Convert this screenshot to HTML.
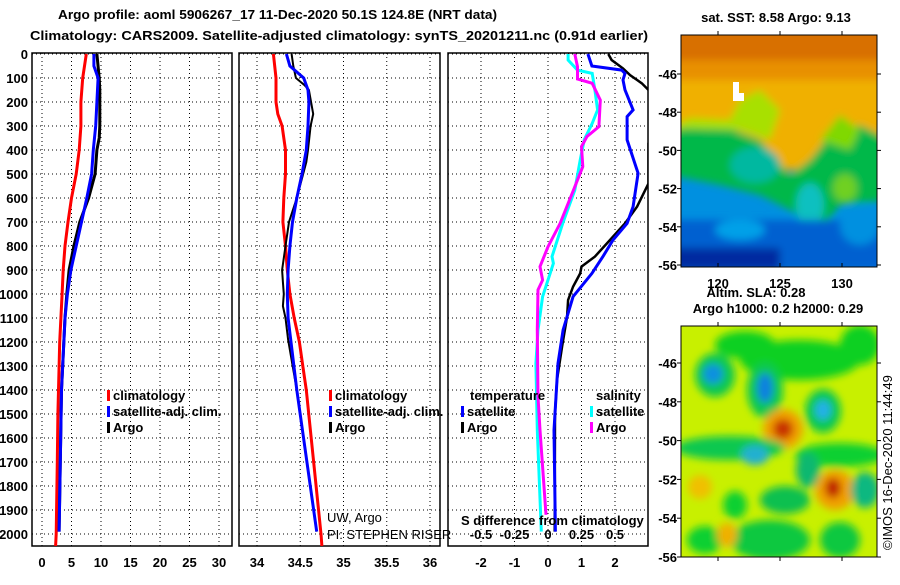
<!DOCTYPE html>
<html><head><meta charset="utf-8"><style>
body{margin:0;background:#fff;width:900px;height:580px;overflow:hidden}
svg text{font-family:"Liberation Sans",sans-serif;font-weight:bold;font-size:13px;fill:#000}
</style></head><body>
<svg id="s" width="900" height="580" viewBox="0 0 900 580" xmlns="http://www.w3.org/2000/svg">
<defs>
<filter id="bl" x="-20%" y="-20%" width="140%" height="140%"><feGaussianBlur stdDeviation="4"/></filter>
<clipPath id="c1"><rect x="681" y="35" width="196" height="232"/></clipPath>
<clipPath id="c2"><rect x="681" y="326" width="196" height="231"/></clipPath>
<clipPath id="cp1"><rect x="32" y="53" width="200" height="493"/></clipPath>
<clipPath id="cp2"><rect x="239" y="53" width="201" height="493"/></clipPath>
<clipPath id="cp3"><rect x="448" y="53" width="200" height="493"/></clipPath>
</defs>
<text x="58" y="19" textLength="439" lengthAdjust="spacingAndGlyphs" font-size="14">Argo profile: aoml 5906267_17 11-Dec-2020 50.1S 124.8E (NRT data)</text>
<text x="30" y="40" textLength="618" lengthAdjust="spacingAndGlyphs" font-size="14">Climatology: CARS2009. Satellite-adjusted climatology: synTS_20201211.nc (0.91d earlier)</text>

<g clip-path="url(#c1)">
<rect x="681" y="35" width="196" height="232" fill="#0090e0"/>
<g filter="url(#bl)">
<rect x="670" y="20" width="220" height="150" fill="#f0b000"/>
<rect x="670" y="20" width="220" height="45" fill="#d87000"/>
<rect x="670" y="60" width="220" height="20" fill="#e89000"/>
<path d="M670,130 L720,125 L760,140 L790,175 L810,160 L830,135 L860,125 L890,140 L890,200 L840,205 L820,230 L790,210 L760,195 L720,185 L670,175 Z" fill="#00b848"/>
<path d="M670,128 L690,118 L730,120 L740,100 L760,90 L780,110 L770,140 L740,130 Z" fill="#a8e000"/>
<path d="M820,140 L840,115 L860,130 L850,150 Z" fill="#80d800"/>
<ellipse cx="845" cy="188" rx="12" ry="14" fill="#70d020"/>
<ellipse cx="810" cy="205" rx="14" ry="22" fill="#10c0c0"/>
<ellipse cx="755" cy="165" rx="25" ry="18" fill="#00b8a0"/>
<rect x="670" y="220" width="220" height="50" fill="#0060d0"/>
<rect x="670" y="248" width="110" height="22" fill="#002aa0"/>
<ellipse cx="740" cy="230" rx="25" ry="10" fill="#00a0e8"/>
<ellipse cx="860" cy="225" rx="20" ry="20" fill="#0090e0"/>
</g>
<rect x="733" y="82" width="6" height="18" fill="#fff"/>
<rect x="733" y="93" width="11" height="8" fill="#fff"/>
</g>
<rect x="681" y="35" width="196" height="232" fill="none" stroke="#000" stroke-width="1"/>

<g clip-path="url(#c2)">
<rect x="681" y="326" width="196" height="231" fill="#c8f000"/>
<g filter="url(#bl)">
<ellipse cx="745" cy="345" rx="30" ry="14" fill="#10d020"/>
<ellipse cx="800" cy="360" rx="60" ry="20" fill="#10d020"/>
<ellipse cx="860" cy="345" rx="20" ry="20" fill="#10d020"/>
<ellipse cx="715" cy="375" rx="20" ry="22" fill="#10c850"/>
<ellipse cx="713" cy="374" rx="10" ry="10" fill="#1090e0"/>
<ellipse cx="765" cy="390" rx="18" ry="28" fill="#10c850"/>
<ellipse cx="765" cy="388" rx="8" ry="15" fill="#1080e0"/>
<ellipse cx="823" cy="411" rx="18" ry="22" fill="#10c850"/>
<ellipse cx="823" cy="410" rx="8" ry="10" fill="#20b0e8"/>
<ellipse cx="783" cy="429" rx="20" ry="20" fill="#f0a000"/>
<ellipse cx="783" cy="429" rx="10" ry="10" fill="#c83000"/>
<ellipse cx="730" cy="448" rx="55" ry="12" fill="#10c850"/>
<ellipse cx="755" cy="455" rx="14" ry="10" fill="#20b0d0"/>
<ellipse cx="840" cy="455" rx="45" ry="12" fill="#10d030"/>
<ellipse cx="808" cy="470" rx="12" ry="18" fill="#10b870"/>
<ellipse cx="835" cy="490" rx="20" ry="20" fill="#f0a000"/>
<ellipse cx="833" cy="488" rx="8" ry="10" fill="#c02000"/>
<ellipse cx="700" cy="487" rx="12" ry="12" fill="#f0c000"/>
<ellipse cx="865" cy="490" rx="14" ry="18" fill="#10b880"/>
<ellipse cx="785" cy="500" rx="25" ry="14" fill="#10c050"/>
<ellipse cx="735" cy="505" rx="12" ry="14" fill="#10d030"/>
<ellipse cx="770" cy="540" rx="40" ry="20" fill="#10c840"/>
<ellipse cx="705" cy="540" rx="18" ry="14" fill="#10d030"/>
<ellipse cx="727" cy="535" rx="10" ry="12" fill="#f0b000"/>
<ellipse cx="840" cy="540" rx="20" ry="18" fill="#10c840"/>
</g>
</g>
<rect x="681" y="326" width="196" height="231" fill="none" stroke="#000" stroke-width="1"/>

<text x="776" y="22" text-anchor="middle" font-size="12">sat. SST: 8.58 Argo: 9.13</text>
<text x="756" y="297" text-anchor="middle" font-size="12">Altim. SLA: 0.28</text>
<text x="778" y="313" text-anchor="middle" font-size="12">Argo h1000: 0.2 h2000: 0.29</text>
<text transform="translate(892,550) rotate(-90)" font-size="12" style="font-weight:normal">©IMOS 16-Dec-2020 11:44:49</text>
<g id="axes"></g>
</svg>
<script>
// ---- data ----
const depthT = [0,100,200,300,400,500,600,700,800,900,1000,1100,1200,1300,1500,1700,2000,2050];
const climT = [7.5,6.9,6.6,6.6,6.3,5.8,5.0,4.4,3.9,3.6,3.4,3.2,3.0,2.9,2.7,2.6,2.4,2.3];
const depthB = [0,50,100,200,300,400,500,600,700,800,900,1000,1100,1400,1990];
const satT = [8.8,8.8,9.5,9.3,9.1,8.7,8.4,7.6,6.7,5.8,4.9,4.3,3.9,3.3,2.9];
const depthA = [0,100,150,300,350,400,500,600,700,800,900,1000,1100,1400,1990];
const argoT = [9.3,9.7,9.8,9.8,9.7,9.3,9.0,7.9,6.4,5.4,4.6,4.2,3.9,3.3,2.9];

const depthCS = [0,100,200,250,300,400,500,600,700,800,900,1000,1100,1200,1300,1400,2000,2050];
const climS = [34.19,34.22,34.22,34.24,34.29,34.33,34.33,34.31,34.30,34.33,34.35,34.38,34.43,34.49,34.53,34.57,34.74,34.75];
const depthSS = [0,50,100,150,200,300,400,500,600,700,800,900,1000,1100,1190,1400,1990];
const satS = [34.34,34.38,34.54,34.59,34.60,34.59,34.57,34.52,34.46,34.41,34.38,34.36,34.35,34.36,34.39,34.46,34.69];
const depthAS = [0,50,100,130,150,250,300,400,450,600,700,800,900,950,1000,1050,1100,1190,1400,1990];
const argoS = [34.40,34.42,34.45,34.55,34.60,34.65,34.62,34.59,34.57,34.46,34.37,34.33,34.29,34.30,34.31,34.30,34.33,34.36,34.46,34.69];

const depthDT = [0,50,67,81,108,150,233,261,358,497,636,706,775,844,914,1011,1150,1289,1428,1567,1990];
const diffSatT = [1.19,1.31,2.2,2.3,2.24,2.3,2.54,2.36,2.36,2.69,2.54,2.36,1.94,1.64,1.31,0.75,0.45,0.30,0.24,0.18,0.22];
const depthDA = [0,25,60,88,122,150,250,372,539,636,706,775,844,886,914,969,1025,1094,1219,1358,1497,1990];
const diffArgoT = [1.8,1.9,2.24,2.45,2.8,3.0,3.4,3.0,3.0,2.66,2.3,1.85,1.4,1.0,0.96,0.75,0.6,0.57,0.42,0.27,0.21,0.2];
const depthDCS = [0,25,67,81,150,233,289,358,442,567,706,844,872,1011,1150,1289,1567,1990];
const diffSatS = [0.15,0.15,0.22,0.33,0.35,0.37,0.33,0.27,0.24,0.2,0.11,0.03,0.04,-0.04,-0.075,-0.09,-0.08,-0.05];
const depthDMS = [0,53,104,122,192,303,344,386,469,567,706,803,886,942,983,1150,1428,1567,1920];
const diffArgoS = [0.2,0.22,0.22,0.33,0.39,0.38,0.29,0.25,0.26,0.19,0.09,0,-0.06,-0.04,-0.075,-0.08,-0.075,-0.06,-0.015];

const ticksT = [0,5,10,15,20,25,30];
const ticksS = [34,34.5,35,35.5,36];
const ticksD = [-2,-1,0,1,2];
const ticksSdiff = [-0.5,-0.25,0,0.25,0.5];
const ticksDepth = [0,100,200,300,400,500,600,700,800,900,1000,1100,1200,1300,1400,1500,1600,1700,1800,1900,2000];
const lonTicks = [120,125,130];
const latTicks = [-46,-48,-50,-52,-54,-56];

// ---- scales ----
const yD = d => 54 + d*0.24;
const x1 = v => 42 + v*5.9;
const x2 = v => 257 + (v-34)*86.5;
const x3 = v => 548 + v*33.5;
const x3s = v => x3(v*4);
const lonX = v => 718 + (v-120)*12.4;
const latY1 = v => 74 + (-46 - v)*19.1;
const latY2 = v => 363 + (-46 - v)*19.4;

const NS = 'http://www.w3.org/2000/svg';
const root = document.getElementById('axes');
function mk(tag, attrs, parent){const e=document.createElementNS(NS,tag);for(const k in attrs)e.setAttribute(k,attrs[k]);(parent||root).appendChild(e);return e;}
function txt(x,y,s,anchor,size,parent){const t=mk('text',{x:x,y:y,'text-anchor':anchor||'start','font-size':size||12},parent);t.textContent=s;return t;}

const panels = [
 {name:'temperature-panel',x0:32,x1:232,clip:'cp1',sx:x1,ticks:ticksT},
 {name:'salinity-panel',x0:239,x1:440,clip:'cp2',sx:x2,ticks:ticksS},
 {name:'difference-panel',x0:448,x1:648,clip:'cp3',sx:x3,ticks:ticksD}
];
panels.forEach(p=>{
  const g = mk('g',{});
  
  
  ticksDepth.forEach(d=>{ mk('line',{x1:p.x0,x2:p.x1,y1:yD(d),y2:yD(d),stroke:'#000','stroke-dasharray':'1,3','stroke-width':1},g); });
  p.ticks.forEach(v=>{ mk('line',{x1:p.sx(v),x2:p.sx(v),y1:53,y2:546,stroke:'#000','stroke-dasharray':'1,3','stroke-width':1},g);
    const t=txt(p.sx(v),567,String(v),'middle',12,g);
    
    
  });
  mk('rect',{x:p.x0,y:53,width:p.x1-p.x0,height:493,fill:'none',stroke:'#000','stroke-width':1.5},g);
});
ticksDepth.forEach(d=>{
  const t=txt(28,yD(d)+5,String(d),'end',13);
  
  
});

function series(name, depths, vals, sx, color, clip, w){
  const pts = depths.map((d,i)=>sx(vals[i]).toFixed(1)+','+yD(d).toFixed(1)).join(' ');
  const l = mk('polyline',{points:pts,fill:'none',stroke:color,'stroke-width':w||3,'clip-path':'url(#'+clip+')'});
  
  
}
series('temp-climatology-line',depthT,climT,x1,'#ff0000','cp1');
series('temp-argo-line',depthA,argoT,x1,'#000','cp1');
series('temp-satellite-line',depthB,satT,x1,'#0000ff','cp1');
series('sal-climatology-line',depthCS,climS,x2,'#ff0000','cp2');
series('sal-argo-line',depthAS,argoS,x2,'#000','cp2',2);
series('sal-satellite-line',depthSS,satS,x2,'#0000ff','cp2');
series('tdiff-argo-line',depthDA,diffArgoT,x3,'#000','cp3',2.5);
series('tdiff-satellite-line',depthDT,diffSatT,x3,'#0000ff','cp3');
series('sdiff-satellite-line',depthDCS,diffSatS,x3s,'#00ffff','cp3');
series('sdiff-argo-line',depthDMS,diffArgoS,x3s,'#ff00ff','cp3');

function legend(x,y,color,label,name){
  const g=mk('g',{});
  
  
  mk('rect',{x:x,y:y-10,width:3,height:11,fill:color},g);
  txt(x+6,y,label,'start',12,g);
}
legend(107,400,'#ff0000','climatology','legend-climatology');
legend(107,416,'#0000ff','satellite-adj. clim.','legend-satellite-adj');
legend(107,432,'#000','Argo','legend-argo');
legend(329,400,'#ff0000','climatology','legend-climatology-2');
legend(329,416,'#0000ff','satellite-adj. clim.','legend-satellite-adj-2');
legend(329,432,'#000','Argo','legend-argo-2');
let t=txt(470,400,'temperature','start',12);  
t=txt(596,400,'salinity','start',12);  
legend(461,416,'#0000ff','satellite','legend-temp-satellite');
legend(461,432,'#000','Argo','legend-temp-argo');
legend(590,416,'#00ffff','satellite','legend-sal-satellite');
legend(590,432,'#ff00ff','Argo','legend-sal-argo');

t=txt(327,522,'UW, Argo','start',12);   t.style.fontWeight='normal';
t=txt(327,539,'PI: STEPHEN RISER','start',12);   t.style.fontWeight='normal';
t=txt(461,525,'S difference from climatology','start',12);  
ticksSdiff.forEach(v=>{ const e=txt(x3s(v),539,String(v),'middle',12);   });

// map ticks
lonTicks.forEach(v=>{
  mk('line',{x1:lonX(v),x2:lonX(v),y1:267,y2:263,stroke:'#000'});
  mk('line',{x1:lonX(v),x2:lonX(v),y1:35,y2:31,stroke:'#000'});
  mk('line',{x1:lonX(v),x2:lonX(v),y1:557,y2:561,stroke:'#000'});
  mk('line',{x1:lonX(v),x2:lonX(v),y1:326,y2:322,stroke:'#000'});
  const e=txt(lonX(v),288,String(v),'middle',12);  
});
latTicks.forEach(v=>{
  mk('line',{x1:877,x2:881,y1:latY1(v),y2:latY1(v),stroke:'#000'});
  mk('line',{x1:877,x2:881,y1:latY2(v),y2:latY2(v),stroke:'#000'});
  mk('line',{x1:677,x2:681,y1:latY1(v),y2:latY1(v),stroke:'#000'});
  mk('line',{x1:677,x2:681,y1:latY2(v),y2:latY2(v),stroke:'#000'});
  let e=txt(677,latY1(v)+5,String(v),'end',13);  
  e=txt(677,latY2(v)+5,String(v),'end',13);  
});
</script>
</body></html>
